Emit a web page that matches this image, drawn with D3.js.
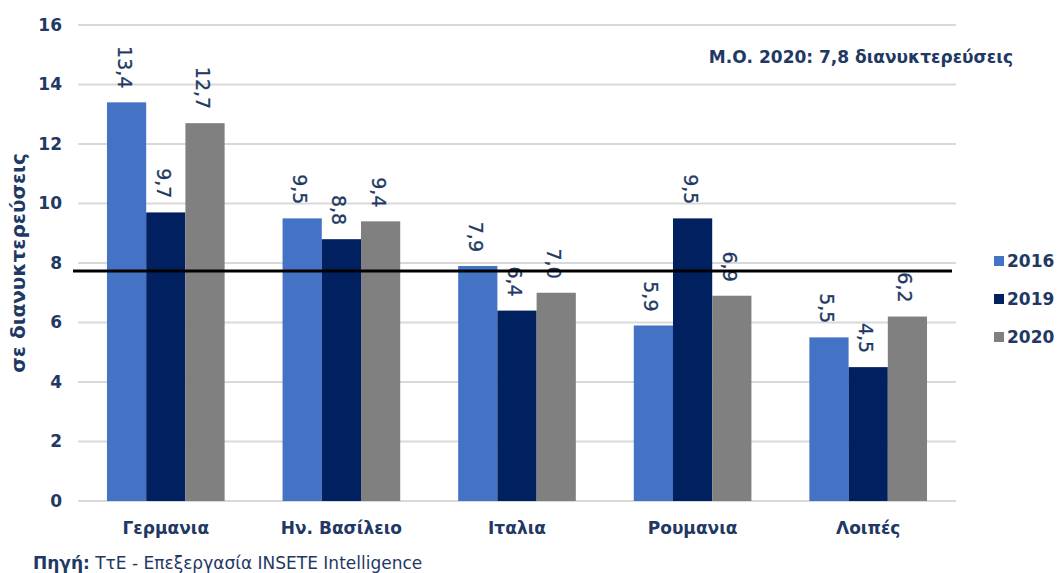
<!DOCTYPE html>
<html>
<head>
<meta charset="utf-8">
<script src="https://cdn.jsdelivr.net/npm/d3@7"></script>
<style>
  html, body { margin: 0; padding: 0; background: #fff; }
  svg { display: block; font-family: "DejaVu Sans", Verdana, sans-serif; }
</style>
</head>
<body>
<svg id="chart" width="1062" height="573"></svg>
<script>
// Overnight stays per market and year
const categories = ["Γερμανια", "Ην. Βασίλειο", "Ιταλια", "Ρουμανια", "Λοιπές"];
const years = ["2016", "2019", "2020"];
const values2016 = [13.4, 9.5, 7.9, 5.9, 5.5];
const values2019 = [9.7, 8.8, 6.4, 9.5, 4.5];
const values2020 = [12.7, 9.4, 7.0, 6.9, 6.2];
const yTicks = [0, 2, 4, 6, 8, 10, 12, 14, 16];
const mean2020 = 7.8;
const meanLabel = "Μ.Ο. 2020: 7,8 διανυκτερεύσεις";
const yTitle = "σε διανυκτερεύσεις";
const sourceBold = "Πηγή:";
const sourceText = " ΤτΕ - Επεξεργασία INSETE Intelligence";

const colors = { "2016": "#4472c4", "2019": "#002060", "2020": "#808080" };
const navy = "#1f3864";

const seriesValues = { "2016": values2016, "2019": values2019, "2020": values2020 };

const svg = d3.select("#chart");
const plot = { left: 78, right: 956, top: 25, bottom: 501 };

const x0 = d3.scaleBand().domain(categories).range([plot.left, plot.right]).paddingInner(0.33).paddingOuter(0.165);
const x1 = d3.scaleBand().domain(years).range([0, x0.bandwidth()]);
const y = d3.scaleLinear().domain([0, 16]).range([plot.bottom, plot.top]);

// Horizontal grid lines
svg.append("g").selectAll("line").data(yTicks).join("line")
  .attr("x1", plot.left).attr("x2", plot.right)
  .attr("y1", d => y(d)).attr("y2", d => y(d))
  .attr("stroke", "#d9d9d9").attr("stroke-width", 2);

// Y axis tick labels
const yAxis = d3.axisLeft(y).tickValues(yTicks).tickSize(0).tickPadding(0).tickFormat(d3.format("d"));
const gy = svg.append("g").attr("transform", `translate(62,0)`).call(yAxis);
gy.select(".domain").remove();
gy.selectAll("text")
  .attr("font-family", "DejaVu Sans, Verdana, sans-serif")
  .attr("font-size", 17).attr("font-weight", "bold").attr("fill", navy);

// Bars
const rows = categories.map((c, i) => ({ cat: c, items: years.map(yr => ({ yr, v: seriesValues[yr][i] })) }));
const groups = svg.append("g").selectAll("g").data(rows).join("g")
  .attr("transform", d => `translate(${x0(d.cat)},0)`);

groups.selectAll("rect").data(d => d.items).join("rect")
  .attr("x", d => x1(d.yr)).attr("width", x1.bandwidth())
  .attr("y", d => y(d.v)).attr("height", d => y(0) - y(d.v))
  .attr("fill", d => colors[d.yr]);

// Value labels, rotated to read downward
const fmt = v => d3.format(".1f")(v).replace(".", ",");
groups.selectAll("text.val").data(d => d.items).join("text")
  .attr("class", "val")
  .attr("transform", d => `translate(${x1(d.yr) + x1.bandwidth() / 2 - 2},${y(d.v) - 14}) rotate(90)`)
  .attr("text-anchor", "end").attr("dominant-baseline", "central")
  .attr("font-size", 19).attr("fill", navy).attr("stroke", navy).attr("stroke-width", 0.3)
  .text(d => fmt(d.v));

// Category axis
const xAxis = d3.axisBottom(x0).tickSize(0).tickPadding(0);
const gx = svg.append("g").attr("transform", `translate(0,${plot.bottom + 33})`).call(xAxis);
gx.select(".domain").remove();
gx.selectAll("text")
  .attr("font-family", "DejaVu Sans, Verdana, sans-serif")
  .attr("font-size", 17).attr("font-weight", "bold").attr("fill", navy)
  .attr("dy", 0);

// Mean line
svg.append("line")
  .attr("x1", 73).attr("x2", 952)
  .attr("y1", y(mean2020) + 2).attr("y2", y(mean2020) + 2)
  .attr("stroke", "#000").attr("stroke-width", 3);

svg.append("text")
  .attr("x", 1013).attr("y", 63).attr("text-anchor", "end")
  .attr("font-size", 17).attr("font-weight", "bold").attr("fill", navy)
  .text(meanLabel);

// Y axis title
svg.append("text")
  .attr("transform", `translate(25,${(plot.top + plot.bottom) / 2}) rotate(-90)`)
  .attr("text-anchor", "middle")
  .attr("font-size", 20).attr("font-weight", "bold").attr("fill", navy)
  .text(yTitle);

// Legend
const legend = svg.append("g").selectAll("g").data(years).join("g")
  .attr("transform", (d, i) => `translate(994,${261 + i * 38})`);
legend.append("rect").attr("x", 0).attr("y", -5).attr("width", 10).attr("height", 10)
  .attr("fill", d => colors[d]);
legend.append("text").attr("x", 13).attr("y", 0).attr("dominant-baseline", "central")
  .attr("font-size", 17).attr("font-weight", "bold").attr("fill", navy)
  .text(d => d);

// Source note
const src = svg.append("text").attr("x", 33).attr("y", 569)
  .attr("font-size", 17).attr("fill", navy);
src.append("tspan").attr("font-weight", "bold").text(sourceBold);
src.append("tspan").text(sourceText);
</script>
</body>
</html>
